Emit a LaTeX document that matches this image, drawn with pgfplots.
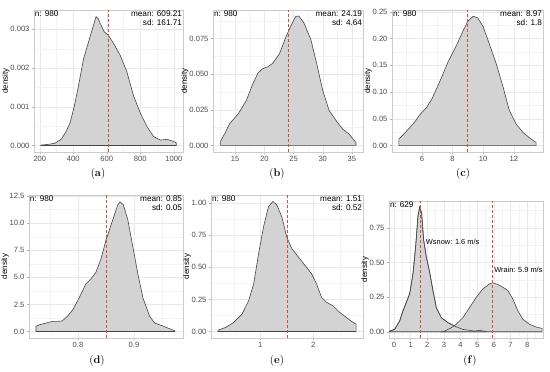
\documentclass[border=0pt]{standalone}
\usepackage{fontspec}
\usepackage{pgfplots}
\pgfplotsset{compat=1.18}
\usepackage{pgfplotstable}
\newfontfamily\lsans{Liberation Sans}
\definecolor{fillg}{RGB}{211,211,211}
\definecolor{lineg}{RGB}{70,70,70}
\definecolor{meanred}{RGB}{205,80,60}
\definecolor{tickg}{RGB}{77,77,77}

\pgfplotstableread{
x y
205 0
205 0.00001
250 0.00003
290 0.00006
330 0.00017
355 0.00035
380 0.00058
405 0.00100
430 0.00152
460 0.00222
500 0.00281
520 0.00310
536 0.00333
548 0.00328
560 0.00316
584 0.00294
610 0.00284
640 0.00264
680 0.00233
720 0.00190
760 0.00128
800 0.00084
840 0.00049
880 0.00023
920 0.00014
960 0.00016
990 0.00012
1015 0.00007
1015 0
}\dataA

\pgfplotstableread{
x y
12.5 0
12.5 0.003
13.3 0.009
14.0 0.015
15.5 0.022
16.9 0.0315
18.0 0.043
18.9 0.0508
19.7 0.0538
20.6 0.0552
21.4 0.0575
22.6 0.0644
23.7 0.0762
24.6 0.0844
25.4 0.0905
25.9 0.0908
26.8 0.0858
28.0 0.0738
29.1 0.0550
30.0 0.0386
31.1 0.0245
32.3 0.0174
33.4 0.0115
34.5 0.0080
35.7 0.0020
35.7 0
}\dataB

\pgfplotstableread{
x y
4.5 0
4.5 0.012
5.0 0.027
5.5 0.043
5.9 0.059
6.3 0.071
6.65 0.087
7.2 0.122
7.7 0.156
8.3 0.19
8.7 0.2155
9.0 0.2325
9.35 0.2419
9.65 0.2385
10.0 0.222
10.4 0.19
10.85 0.153
11.3 0.109
11.7 0.066
12.15 0.04
12.6 0.0245
13.0 0.015
13.45 0.0056
13.45 0
}\dataC

\pgfplotstableread{
x y
0.725 0
0.725 0.47
0.731 0.62
0.743 0.78
0.755 0.94
0.764 0.94
0.772 0.98
0.781 1.4
0.791 2.03
0.802 3.1
0.814 4.4
0.823 4.85
0.832 5.47
0.841 6.7
0.850 8.44
0.862 10.3
0.871 11.7
0.875 11.97
0.881 11.7
0.889 10.3
0.898 7.8
0.907 5.3
0.916 3.1
0.928 1.4
0.937 0.78
0.949 0.56
0.961 0.31
0.973 0.06
0.973 0
}\dataD

\pgfplotstableread{
x y
0.2 0
0.2 0.01
0.344 0.031
0.5 0.071
0.656 0.136
0.781 0.24
0.875 0.37
0.969 0.607
1.0625 0.817
1.156 0.974
1.2375 1.013
1.3125 0.987
1.406 0.895
1.5 0.738
1.594 0.647
1.719 0.581
1.844 0.516
1.969 0.45
2.0625 0.372
2.156 0.267
2.25 0.228
2.375 0.2
2.5 0.149
2.625 0.11
2.75 0.071
2.81 0.058
2.81 0
}\dataE

\pgfplotstableread{
x y
-0.26 0
-0.26 0.005
0.04 0.017
0.34 0.078
0.54 0.151
0.74 0.212
0.94 0.273
1.14 0.419
1.3 0.614
1.44 0.833
1.54 0.898
1.66 0.857
1.78 0.662
1.94 0.54
2.14 0.431
2.34 0.297
2.54 0.175
2.84 0.102
3.24 0.066
3.64 0.041
4.14 0.017
4.54 0.010
4.84 0.005
5.14 0.01
5.54 0.002
5.54 0
}\dataSnow

\pgfplotstableread{
x y
2.9 0
3.04 0.005
3.44 0.029
3.74 0.054
4.14 0.102
4.54 0.175
4.94 0.248
5.34 0.309
5.74 0.346
5.94 0.353
6.24 0.341
6.54 0.321
6.84 0.297
7.14 0.236
7.44 0.151
7.74 0.09
8.14 0.054
8.54 0.034
8.9 0.024
8.9 0
}\dataRain

\pgfplotsset{
  dens/.style={
    scale only axis, anchor=south west,
    axis line style={draw=gray!40, line width=0.5pt},
    tick align=outside, major tick length=2pt, minor tick length=0pt,
    tick style={color=gray!60, line width=0.4pt},
    xtick pos=bottom, ytick pos=left,
    grid=both,
    major grid style={draw=gray!18, line width=0.4pt},
    minor grid style={draw=gray!9, line width=0.3pt},
    tick label style={font=\lsans\fontsize{7.6}{8}\selectfont, text=tickg},
    xticklabel style={yshift=1pt},
    yticklabel style={xshift=1pt},
    ylabel={density},
    ylabel style={font=\lsans\fontsize{8}{9}\selectfont, yshift=-6pt},
    scaled ticks=false,
    /pgf/number format/assume math mode=true,
    /pgf/number format/1000 sep={},
    /pgf/number format/fixed,
    clip=true, clip mode=individual,
  },
  dplot/.style={fill=fillg, draw=lineg, line width=0.6pt},
  mline/.style={meanred, line width=0.85pt, dash pattern=on 3pt off 2pt},
}
\tikzset{
  ntext/.style={anchor=north west, font=\lsans\fontsize{8.2}{9}\selectfont, inner sep=0.8pt},
  stext/.style={anchor=north east, font=\lsans\fontsize{8.2}{9}\selectfont, inner sep=0.8pt, align=right},
  ltext/.style={anchor=west, font=\lsans\fontsize{7.4}{8}\selectfont, inner sep=1pt},
}

\begin{document}
\begin{tikzpicture}
\useasboundingbox (0,0) rectangle (550pt,372pt);

% (a)
\begin{axis}[dens, at={(34pt,220pt)}, width=149pt, height=142pt,
  xmin=165, xmax=1055, ymin=-0.000167, ymax=0.0035,
  xtick={200,400,600,800,1000}, minor xtick={300,500,700,900},
  ytick={0,0.001,0.002,0.003}, minor ytick={0.0005,0.0015,0.0025},
  yticklabel style={/pgf/number format/precision=3, /pgf/number format/zerofill}]
\addplot[dplot] table {\dataA} -- cycle;
\addplot[mline] coordinates {(609.21,-0.000167) (609.21,0.0035)};
\node[ntext] at (rel axis cs:0,1) {n: 980};
\node[stext] at (rel axis cs:1,1) {mean: 609.21\\sd: 161.71};
\end{axis}

% (b)
\begin{axis}[dens, at={(213pt,220pt)}, width=150pt, height=142pt,
  xmin=11.2, xmax=36.9, ymin=-0.0046, ymax=0.095,
  xtick={15,20,25,30,35}, minor xtick={12.5,17.5,22.5,27.5,32.5},
  ytick={0,0.025,0.05,0.075}, minor ytick={0.0125,0.0375,0.0625,0.0875},
  yticklabel style={/pgf/number format/precision=3, /pgf/number format/zerofill}]
\addplot[dplot] table {\dataB} -- cycle;
\addplot[mline] coordinates {(24.19,-0.0046) (24.19,0.095)};
\node[ntext] at (rel axis cs:0,1) {n: 980};
\node[stext] at (rel axis cs:1,1) {mean: 24.19\\sd: 4.64};
\end{axis}

% (c)
\begin{axis}[dens, at={(392pt,220pt)}, width=151pt, height=142pt,
  xmin=4.05, xmax=13.9, ymin=-0.012, ymax=0.2535,
  xtick={6,8,10,12}, minor xtick={5,7,9,11,13},
  ytick={0,0.05,0.1,0.15,0.2,0.25}, minor ytick={0.025,0.075,0.125,0.175,0.225},
  yticklabel style={/pgf/number format/precision=2, /pgf/number format/zerofill}]
\addplot[dplot] table {\dataC} -- cycle;
\addplot[mline] coordinates {(8.97,-0.012) (8.97,0.2535)};
\node[ntext] at (rel axis cs:0,1) {n: 980};
\node[stext] at (rel axis cs:1,1) {mean: 8.97\\sd: 1.8};
\end{axis}

% (d)
\begin{axis}[dens, at={(29pt,34pt)}, width=154pt, height=143pt,
  xmin=0.7125, xmax=0.9875, ymin=-0.6, ymax=12.6,
  xtick={0.8,0.9}, minor xtick={0.75,0.85,0.95},
  ytick={0,2.5,5,7.5,10,12.5}, minor ytick={1.25,3.75,6.25,8.75,11.25},
  xticklabel style={/pgf/number format/precision=1, /pgf/number format/zerofill},
  yticklabel style={/pgf/number format/precision=1, /pgf/number format/zerofill}]
\addplot[dplot] table {\dataD} -- cycle;
\addplot[mline] coordinates {(0.85,-0.6) (0.85,12.6)};
\node[ntext] at (rel axis cs:0,1) {n: 980};
\node[stext] at (rel axis cs:1,1) {mean: 0.85\\sd: 0.05};
\end{axis}

% (e)
\begin{axis}[dens, at={(211pt,34pt)}, width=152pt, height=143pt,
  xmin=0.07, xmax=2.94, ymin=-0.0507, ymax=1.064,
  xtick={1,2}, minor xtick={0.5,1.5,2.5},
  ytick={0,0.25,0.5,0.75,1}, minor ytick={0.125,0.375,0.625,0.875},
  yticklabel style={/pgf/number format/precision=2, /pgf/number format/zerofill}]
\addplot[dplot] table {\dataE} -- cycle;
\addplot[mline] coordinates {(1.51,-0.0507) (1.51,1.064)};
\node[ntext] at (rel axis cs:0,1) {n: 980};
\node[stext] at (rel axis cs:1,1) {mean: 1.51\\sd: 0.52};
\end{axis}

% (f)
\begin{axis}[dens, at={(389pt,34pt)}, width=154pt, height=137pt,
  xmin=-0.3, xmax=8.95, ymin=-0.045, ymax=0.943,
  xtick={0,1,2,3,4,5,6,7,8}, minor xtick={0.5,1.5,2.5,3.5,4.5,5.5,6.5,7.5,8.5},
  ytick={0,0.25,0.5,0.75}, minor ytick={0.125,0.375,0.625,0.875},
  yticklabel style={/pgf/number format/precision=2, /pgf/number format/zerofill}]
\addplot[dplot] table {\dataSnow} -- cycle;
\addplot[dplot] table {\dataRain} -- cycle;
\addplot[draw=lineg, line width=0.6pt] table {\dataSnow};
\addplot[mline] coordinates {(1.6,-0.045) (1.6,0.943)};
\addplot[mline] coordinates {(5.9,-0.045) (5.9,0.943)};
\node[ntext] at (rel axis cs:0,1) {n: 629};
\node[ltext] at (axis cs:1.85,0.65) {Wsnow: 1.6 m/s};
\node[ltext] at (axis cs:5.95,0.45) {Wrain: 5.9 m/s};
\end{axis}

% captions
\node[font=\fontsize{11}{13}\selectfont] at (98pt,198pt) {(\textbf{a})};
\node[font=\fontsize{11}{13}\selectfont] at (277pt,198pt) {(\textbf{b})};
\node[font=\fontsize{11}{13}\selectfont] at (463pt,198pt) {(\textbf{c})};
\node[font=\fontsize{11}{13}\selectfont] at (97pt,11pt) {(\textbf{d})};
\node[font=\fontsize{11}{13}\selectfont] at (277pt,11pt) {(\textbf{e})};
\node[font=\fontsize{11}{13}\selectfont] at (470pt,11pt) {(\textbf{f})};
\end{tikzpicture}
\end{document}
